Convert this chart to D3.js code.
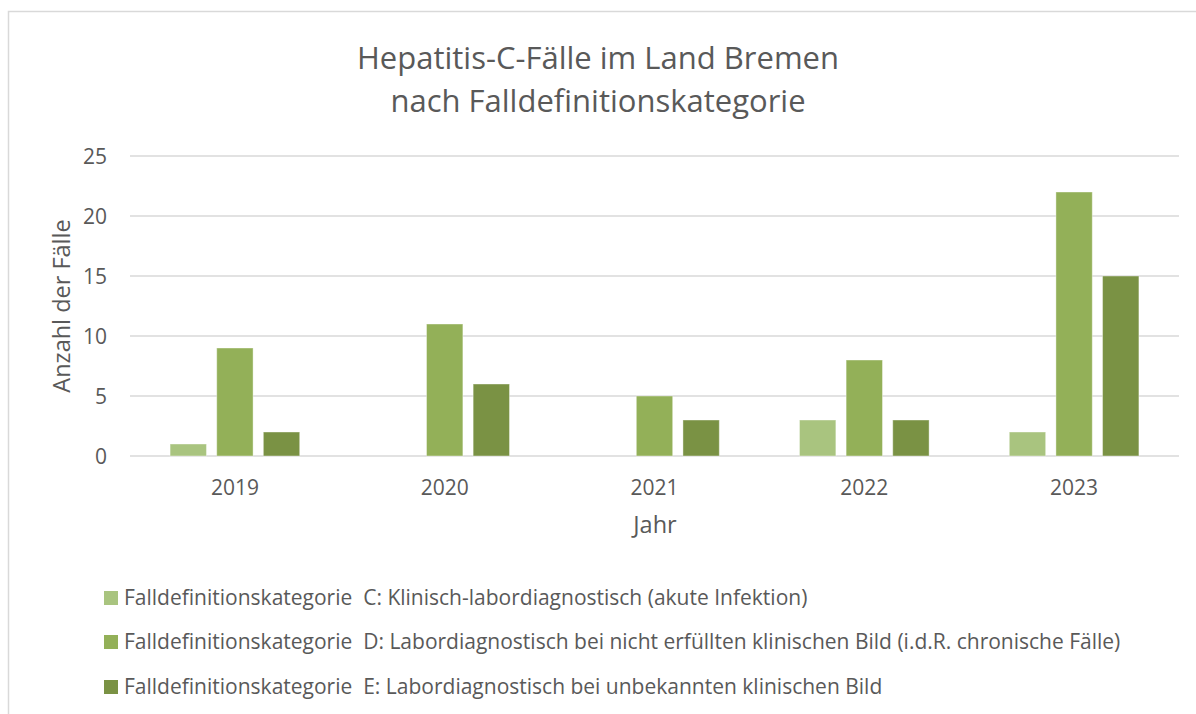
<!DOCTYPE html>
<html><head><meta charset="utf-8">
<script src="https://cdn.jsdelivr.net/npm/d3@7"></script>
<style>body{margin:0;background:#fff;} svg{display:block;font-family:'Open Sans',sans-serif;}</style>
</head><body><svg id="c" width="1196" height="714"></svg>
<script>
const years = ["2019","2020","2021","2022","2023"];
const seriesNames = [
  "Falldefinitionskategorie  C: Klinisch-labordiagnostisch (akute Infektion)",
  "Falldefinitionskategorie  D: Labordiagnostisch bei nicht erfüllten klinischen Bild (i.d.R. chronische Fälle)",
  "Falldefinitionskategorie  E: Labordiagnostisch bei unbekannten klinischen Bild"
];
const valuesC = [1, 0, 0, 3, 2];
const valuesD = [9, 11, 5, 8, 22];
const valuesE = [2, 6, 3, 3, 15];
const yTicks = [0, 5, 10, 15, 20, 25];
const colors = ["#a9c47f", "#93b058", "#7a9244"];
const titleLines = ["Hepatitis-C-Fälle im Land Bremen", "nach Falldefinitionskategorie"];

(function(){
const series = [valuesC, valuesD, valuesE];
const svg = d3.select("#c");
svg.append("rect").attr("x",8.5).attr("y",11.5).attr("width",1200).attr("height",720)
  .attr("fill","#fff").attr("stroke","#d9d9d9").attr("stroke-width",1.5);

const pL=130, pR=1179, pT=156, pB=456;
const x = d3.scaleBand().domain(years).range([pL,pR]);
const xi = d3.scaleBand().domain([0,1,2]).range([0,x.bandwidth()]).paddingInner(0.22).paddingOuter(0.86);
const y = d3.scaleLinear().domain([0,25]).range([pB,pT]);

const tc = svg.append("text").attr("fill","#595959").attr("font-size",31).attr("text-anchor","middle");
titleLines.forEach((t,i)=>tc.append("tspan").attr("x",598).attr("y",69+i*43).text(t));

const grid = svg.append("g");
grid.selectAll("line").data(yTicks).join("line")
  .attr("x1",pL).attr("x2",pR).attr("y1",d=>y(d)).attr("y2",d=>y(d))
  .attr("stroke","#d9d9d9").attr("stroke-width",1.5);

const yAxis = svg.append("g").attr("transform",`translate(${pL},0)`)
  .call(d3.axisLeft(y).tickValues(yTicks).tickSize(0).tickPadding(23));
yAxis.select(".domain").remove();
yAxis.selectAll("text").attr("fill","#595959").attr("font-size",21).attr("font-family","'Open Sans'").attr("dy","0.35em");

const xAxis = svg.append("g").attr("transform",`translate(0,${pB})`)
  .call(d3.axisBottom(x).tickSize(0).tickPadding(24));
xAxis.select(".domain").remove();
xAxis.selectAll("text").attr("fill","#595959").attr("font-size",21).attr("font-family","'Open Sans'");

series.forEach((vals,si)=>{
  svg.append("g").selectAll("rect").data(vals.map((v,i)=>({year:years[i],v})).filter(d=>d.v>0)).join("rect")
    .attr("x",d=>x(d.year)+xi(si)).attr("width",xi.bandwidth())
    .attr("y",d=>y(d.v)).attr("height",d=>y(0)-y(d.v))
    .attr("fill",colors[si]).attr("stroke","#fff").attr("stroke-opacity",0.4).attr("stroke-width",1);
});

svg.append("text").attr("transform","translate(70,306) rotate(-90)").attr("text-anchor","middle")
  .attr("fill","#595959").attr("font-size",23.5).text("Anzahl der Fälle");
svg.append("text").attr("x",655).attr("y",533).attr("text-anchor","middle")
  .attr("fill","#595959").attr("font-size",23.5).text("Jahr");

const legY = [598, 642, 687];
const lg = svg.append("g");
seriesNames.forEach((n,i)=>{
  lg.append("rect").attr("x",104).attr("y",legY[i]-7).attr("width",14).attr("height",14).attr("fill",colors[i]);
  lg.append("text").attr("x",124).attr("y",legY[i]).attr("dy","0.35em").attr("fill","#595959")
    .attr("font-size",21).style("white-space","pre").text(n);
});
})();
</script></body></html>
